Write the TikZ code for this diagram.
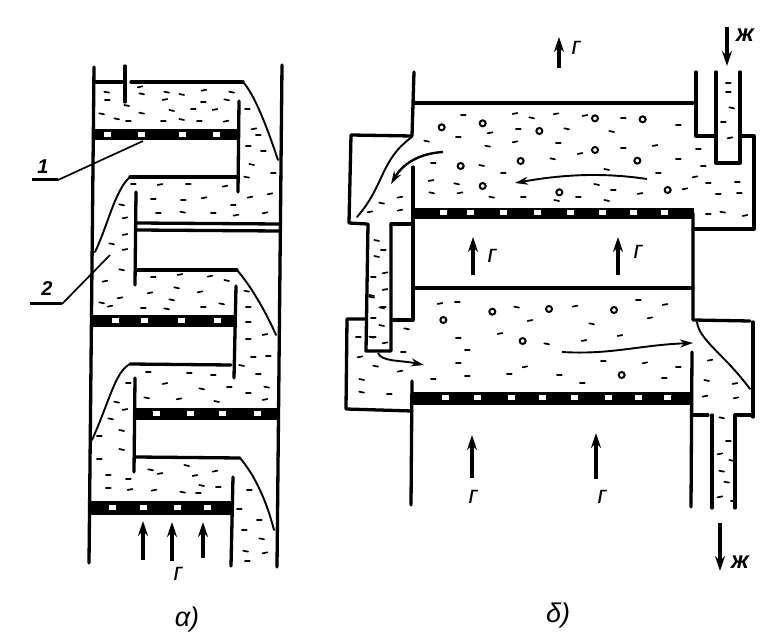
\documentclass[tikz,border=0pt]{standalone}
\usepackage{fontspec}
\setmainfont{Liberation Sans}
\newfontfamily\slantfont[FakeSlant=0.18]{Liberation Sans}
\usetikzlibrary{arrows.meta}
\tikzset{
 wall/.style={line width=3.3pt,line cap=round,line join=round},
 curve line/.style={line width=1.9pt,line cap=round},
 plate/.style={fill=black,draw=none},
 hole/.style={fill=white,draw=none},
 speck/.style={line width=1.7pt,line cap=round},
 bubble/.style={line width=2pt,draw=black,fill=none},
 flow/.style={line width=3.2pt,-{Stealth[length=15pt,width=10pt]}},
 thinflow/.style={line width=1.9pt,-{Stealth[length=13pt,width=8pt]}},
 leader/.style={line width=1.7pt},
 lab/.style={font=\slantfont\fontsize{25}{25}\selectfont,inner sep=0pt},
 caption/.style={font=\itshape\fontsize{27}{27}\selectfont,inner sep=0pt},
 num/.style={font=\bfseries\itshape\fontsize{20}{20}\selectfont,inner sep=0pt},
}
\newcommand\specks[3]{\foreach \a/\b in {#3}{\draw[speck] ({#1+\a/3-2.4},{#2+\b/3}) -- ++(4.8,{mod(\a,3)-1});}}
\newcommand\bubbles[3]{\foreach \a/\b in {#3}{\draw[bubble] ({#1+\a/3},{#2+\b/3}) circle (3);}}
\newcommand\holes[2]{\foreach \a in {#2}{\fill[hole] (\a-3.5,#1-2.5) rectangle (\a+3.5,#1+2.5);}}
\begin{document}
\begin{tikzpicture}[x=1pt,y=-1pt]
\useasboundingbox (0,0) rectangle (777,644);
% ---------- diagram a
\draw[wall] (94,67) -- (89,563);
\draw[wall] (282,65) -- (277,567);
\draw[wall] (96,82) -- (122,82);
\draw[wall] (125,66) -- (125,102);
\draw[wall] (131,82) -- (243,82);
\draw[curve line] (243,82) .. controls (255,95) and (268,130) .. (278,160);
\fill[plate] (93,129) rectangle (238,140);
\holes{135}{107,141,182,216}
\draw[wall] (239,101) -- (238,192);
\draw[wall] (238,177) -- (130,177);
\draw[curve line] (130,177) .. controls (115,190) and (108,225) .. (95,252);
\draw[wall] (136,192) -- (135,285);
\draw[wall] (137,223) -- (279,224);
\draw[wall] (137,230) -- (279,231);
\draw[wall] (136,270) -- (237,270);
\draw[curve line] (237,270) .. controls (250,285) and (265,310) .. (276,335);
\fill[plate] (92,315) rectangle (235,327);
\holes{321}{115,144,181,217}
\draw[wall] (236,286) -- (234,378);
\draw[wall] (231,365) -- (130,364);
\draw[curve line] (130,364) .. controls (115,372) and (110,400) .. (92,440);
\draw[wall] (135,378) -- (134,472);
\fill[plate] (135,408) rectangle (278,420);
\holes{414}{156,190,222,257}
\draw[wall] (136,457) -- (240,458);
\draw[curve line] (240,458) .. controls (252,472) and (265,495) .. (274,530);
\fill[plate] (90,501) rectangle (233,515);
\holes{507}{112,143,177,207}
\draw[wall] (233,477) -- (231,566);
\specks{0}{50}{320/125,322/150,420/112,425/130,500/125,495/150,545/132,612/122,695/125,610/155,680/148,380/165,515/180,580/178,645/180,305/190,350/205,385/212,425/188,490/212,545/207,598/212,678/215,742/178,762/238,775/255,745/288,790/303,755/342,820/370,740/380,400/403,480/405,565/403,675/410,750/443,810/433,460/447,550/450,612/445,700/465,475/490,548/485,640/488,708/497,795/490,365/463,375/505,375/555,335/580,375/600,365/658,315/695,460/680,540/675,630/680,680/690,530/712,600/727,450/730,515/748,360/745,305/757,330/770,430/775,500/775,610/772,665/760,740/722,745/772,745/815,795/855,745/868}
\specks{0}{340}{445/97,568/100,640/105,725/75,760/52,805/47,775/103,385/130,495/132,605/145,688/142,800/140,745/158,440/172,537/178,650/183,795/180,350/185,375/210,332/235,365/270,298/288,365/327,298/358,452/388,480/402,560/375,585/408,645/395,605/435,325/405,385/418,325/445,390/450,462/452,548/455,595/458,655/442,748/450,718/507,778/540,733/570,785/595,737/632,795/640,742/662}
\coordinate (a1) at (143,560); \coordinate (a1t) at (143,521);
\coordinate (a2) at (172,561); \coordinate (a2t) at (172,522);
\coordinate (a3) at (203,558); \coordinate (a3t) at (203,522);
\draw[flow] (a1) -- (a1t);
\draw[flow] (a2) -- (a2t);
\draw[flow] (a3) -- (a3t);
\node[lab] (gA) at (177,574) {г};
\node[caption] (capA) at (187,620) {α)};
\node[num] (n1) at (43,167) {1};
\coordinate (n1a) at (32,180); \coordinate (n1b) at (58,180); \coordinate (n1c) at (143,141);
\draw[line width=3pt] (n1a) -- (n1b);
\draw[leader] (n1b) -- (n1c);
\node[num] (n2) at (47,289) {2};
\coordinate (n2a) at (30,304); \coordinate (n2b) at (62,304); \coordinate (n2c) at (110,255);
\draw[line width=3pt] (n2a) -- (n2b);
\draw[leader] (n2b) -- (n2c);
% ---------- diagram b, upper tray
\draw[wall] (414,72) -- (412,136) -- (351,135) -- (349,223) -- (367,224);
\draw[wall] (414,103) -- (693,103);
\draw[wall] (696,72) -- (696,136) -- (716,136);
\draw[wall] (716,72) -- (716,163) -- (740,163) -- (740,72);
\draw[wall] (740,136) -- (754,136) -- (754,229) -- (693,229);
\draw[wall] (693,213) -- (693,320) -- (750,321);
\fill[plate] (413,208) rectangle (694,219);
\holes{213}{443,470,503,537,570,602,633,664}
\draw[wall] (413,167) -- (413,320) -- (392,320);
\draw[wall] (391,224) -- (412,224);
\draw[wall] (413,288) -- (693,288);
\draw[wall] (368,224) -- (366,351) -- (391,351) -- (391,224);
\draw[curve line] (412,137) .. controls (380,160) and (385,185) .. (357,217);
% lower tray
\draw[wall] (366,319) -- (347,319) -- (346,409) -- (412,411);
\draw[wall] (412,381) -- (411,505);
\draw[wall] (692,352) -- (691,507);
\draw[wall] (753,322) -- (753,417);
\draw[wall] (693,415) -- (708,415);
\draw[wall] (735,415) -- (752,415);
\draw[wall] (712,415) -- (712,508);
\draw[wall] (735,415) -- (735,508);
\fill[plate] (412,392) rectangle (692,405);
\holes{398}{445,477,511,542,574,608,638,667}
\draw[curve line] (697,322) .. controls (699,340) and (725,355) .. (750,389);
\specks{330}{20}{400/285,555/282,605/292,678/283,765/288,880/295,1045/315,290/362,385/350,480/340,565/327,710/325,845/333,473/377,555/367,685/370,750/402,880/385,975/378,1105/388,668/415,1045/418,1120/437,310/430,455/435,520/458,830/447,985/460,1095/472,1135/488,1222/485,303/483,380/490,305/517,390/520,485/530,580/530,680/540,745/530,830/540,800/492,850/510,930/522,1065/508,1165/522,1228/520,1135/583,1178/575,1245/588,210/533,155/548,210/572,120/577,1195/190,1195/215,1205/262,1180/305,1200/355,140/660,160/690,140/708,130/770,165/760,125/830,165/810,155/862}
\bubbles{330}{20}{335/322,458/310,628/333,795/295,938/298,795/390,572/423,922/422,392/438,458/498,688/517,1013/510}
\specks{330}{290}{330/42,382/35,560/50,735/50,925/30,1005/45,600/93,785/100,960/85,230/115,510/132,385/145,650/160,762/153,870/138,412/180,220/187,385/220,820/212,945/220,1045/230,585/232,538/253,412/258,310/268,688/255,757/280,1003/263,85/140,125/140,165/160,90/202,137/227,210/245,95/267,95/305,178/312,125/15,160/50,130/85,155/105,130/140,1140/212,1130/270,1215/282,1125/320,1218/325,1175/382,1195/452,1170/493,1205/510,1175/542,1190/575,1170/622,1210/632}
\bubbles{330}{290}{340/90,487/65,657/57,852/60,578/153,875/255}
% arrows
\draw[thinflow,line width=2.4pt] (443,152) .. controls (425,153) and (405,160) .. (391,184);
\draw[thinflow] (647,179) .. controls (600,172) and (560,175) .. (515,183);
\draw[thinflow] (562,352) .. controls (610,355) and (640,345) .. (693,343);
\draw[thinflow] (378,353) .. controls (382,362) and (400,360) .. (424,365);
\coordinate (b1) at (559,68); \coordinate (b1t) at (559,37);
\coordinate (b2) at (473,275); \coordinate (b2t) at (473,237);
\coordinate (b3) at (618,275); \coordinate (b3t) at (618,237);
\coordinate (b4) at (472,478); \coordinate (b4t) at (472,435);
\coordinate (b5) at (596,479); \coordinate (b5t) at (596,433);
\coordinate (b6) at (727,27); \coordinate (b6t) at (727,66);
\coordinate (b7) at (720,523); \coordinate (b7t) at (720,571);
\foreach \p in {b1,b2,b3,b4,b5,b6,b7}{\draw[flow] (\p) -- (\p t);}
\node[lab] (g1) at (575,48) {г};
\node[lab] (g2) at (491,256) {г};
\node[lab] (g3) at (637,252) {г};
\node[lab] (g4) at (472,497) {г};
\node[lab] (g5) at (601,497) {г};
\node[lab,font=\bfseries\itshape\fontsize{24}{24}\selectfont] (zh1) at (745,35) {ж};
\node[lab,font=\bfseries\itshape\fontsize{24}{24}\selectfont] (zh2) at (740,562) {ж};
\node[caption] (capB) at (558,616) {δ)};
\end{tikzpicture}
\end{document}
